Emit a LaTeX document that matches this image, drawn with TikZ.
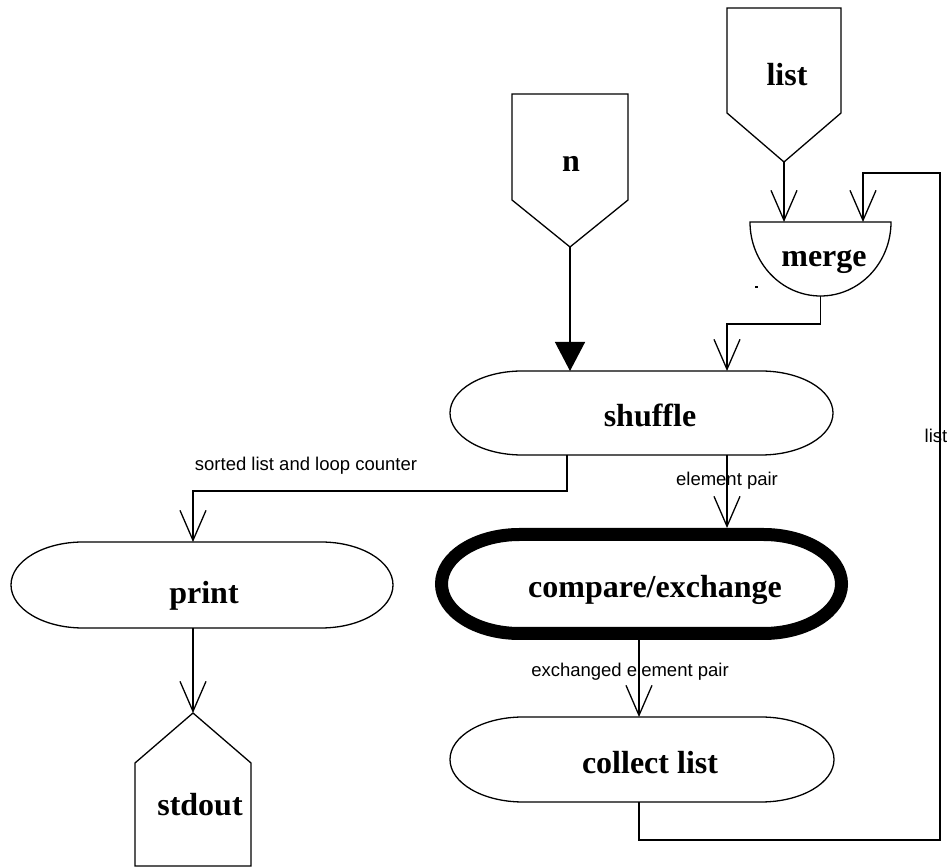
\documentclass[tikz,border=0pt]{standalone}
\usepackage{fontspec}
\setmainfont{Liberation Serif}
\setsansfont{Liberation Sans}
\usetikzlibrary{arrows.meta,calc}

% outline of a process box: straight top and bottom with half-elliptic caps
% #1 node name, #2 cap x radius (pt), #3 inset from the node border, #4 line width
\newcommand\capsuleline[4]{%
  \draw[line width=#4] let \p1=(#1.north), \p2=(#1.south), \n1={(\y1-\y2)/2-#3pt} in
    ([shift={(#2+#3,-#3)}]#1.north west) -- ([shift={(-#2-#3,-#3)}]#1.north east)
    arc[start angle=90,end angle=-90,x radius=#2pt,y radius=\n1]
    -- ([shift={(#2+#3,#3)}]#1.south west)
    arc[start angle=270,end angle=90,x radius=#2pt,y radius=\n1] -- cycle;}

\tikzset{
  box/.style={draw=none,inner sep=0pt,outer sep=0pt,rectangle},
  bigtext/.style={anchor=base,inner sep=0pt,font=\bfseries\fontsize{32}{38}\selectfont},
  flowlabel/.style={anchor=base,inner sep=0pt,font=\sffamily\fontsize{18.5}{22}\selectfont},
  flow/.style={line width=1.3pt},
  openarrow/.style={flow,-{Straight Barb[length=30pt,width=26pt,line width=1.3pt]}},
  fullarrow/.style={flow,-{Triangle[length=29pt,width=30pt]}},
}

\begin{document}
\begin{tikzpicture}[x=1pt,y=1pt,line join=miter]
\useasboundingbox (0,0) rectangle (950,867);

% ---- input and output stores ----
\node[box,minimum width=116,minimum height=153] (n) at (570,696.5) {};
\draw[flow] (n.north west) -- (n.north east) -- ([yshift=47]n.south east)
  -- (n.south) -- ([yshift=47]n.south west) -- cycle;
\node[bigtext] (n-t) at (571,695) {n};

\node[box,minimum width=114,minimum height=154] (list) at (784,782) {};
\draw[flow] (list.north west) -- (list.north east) -- ([yshift=49]list.south east)
  -- (list.south) -- ([yshift=49]list.south west) -- cycle;
\node[bigtext] (list-t) at (787,781) {list};

\node[box,minimum width=116,minimum height=153] (stdout) at (193,77.5) {};
\draw[flow] (stdout.south west) -- ([yshift=-50]stdout.north west) -- (stdout.north)
  -- ([yshift=-50]stdout.north east) -- (stdout.south east) -- cycle;
\node[bigtext] (stdout-t) at (200,51) {stdout};

% ---- merge (half disc) ----
\node[box,minimum width=141,minimum height=74] (merge) at (820.5,608) {};
\draw[flow] (merge.north west) -- (merge.north east)
  arc[start angle=0,end angle=-180,x radius=70.5,y radius=74] -- cycle;
\node[bigtext] (merge-t) at (824,600) {merge};
\draw[flow] (755,580) -- (757.5,580);

% ---- processes ----
\node[box,minimum width=383,minimum height=84] (shuffle) at (641.5,454) {};
\capsuleline{shuffle}{72}{0}{1.3pt}
\node[bigtext] (shuffle-t) at (650,440) {shuffle};

\node[box,minimum width=413,minimum height=112] (compare) at (641.5,283) {};
\capsuleline{compare}{78}{6.5}{13pt}
\node[bigtext] (compare-t) at (655,269) {compare/exchange};

\node[box,minimum width=382,minimum height=86] (print) at (202,282) {};
\capsuleline{print}{72}{0}{1.3pt}
\node[bigtext] (print-t) at (204,263) {print};

\node[box,minimum width=384,minimum height=85] (collect) at (642,107.5) {};
\capsuleline{collect}{73}{0}{1.3pt}
\node[bigtext] (collect-t) at (650,93) {collect list};

% ---- connectors ----
\draw[fullarrow] (n.south) -- (n.south |- shuffle.north);
\draw[openarrow] (list.south) -- (list.south |- merge.north);
\draw[openarrow] (merge.south) -- ++(0,-28) -| ([xshift=85.5]shuffle.north);
\draw[openarrow] ([xshift=-74.5]shuffle.south) -- ++(0,-36) -| ([xshift=-9]print.north);
\node[flowlabel] (lbl-sorted) at (306,396) {sorted list and loop counter};
\draw[openarrow] ([xshift=85.5]shuffle.south) -- ([xshift=85.5]shuffle.south |- compare.north);
\node[flowlabel] (lbl-pair) at (727,381) {element pair};
\draw[openarrow] ([xshift=-2.5]compare.south) -- ([xshift=-2.5]compare.south |- collect.north);
\node[flowlabel] (lbl-xpair) at (630,190) {exchanged element pair};
\draw[openarrow] ([xshift=-9]print.south) -- (stdout.north);

\coordinate (loopbottom) at (940,27);
\coordinate (loopcorner) at (940,694);
\draw[openarrow] ([xshift=-3]collect.south) |- (loopbottom) -- (loopcorner)
  -| ([xshift=42.5]merge.north);
\node[flowlabel] (lbl-list) at (936,424) {list};
\end{tikzpicture}
\end{document}
